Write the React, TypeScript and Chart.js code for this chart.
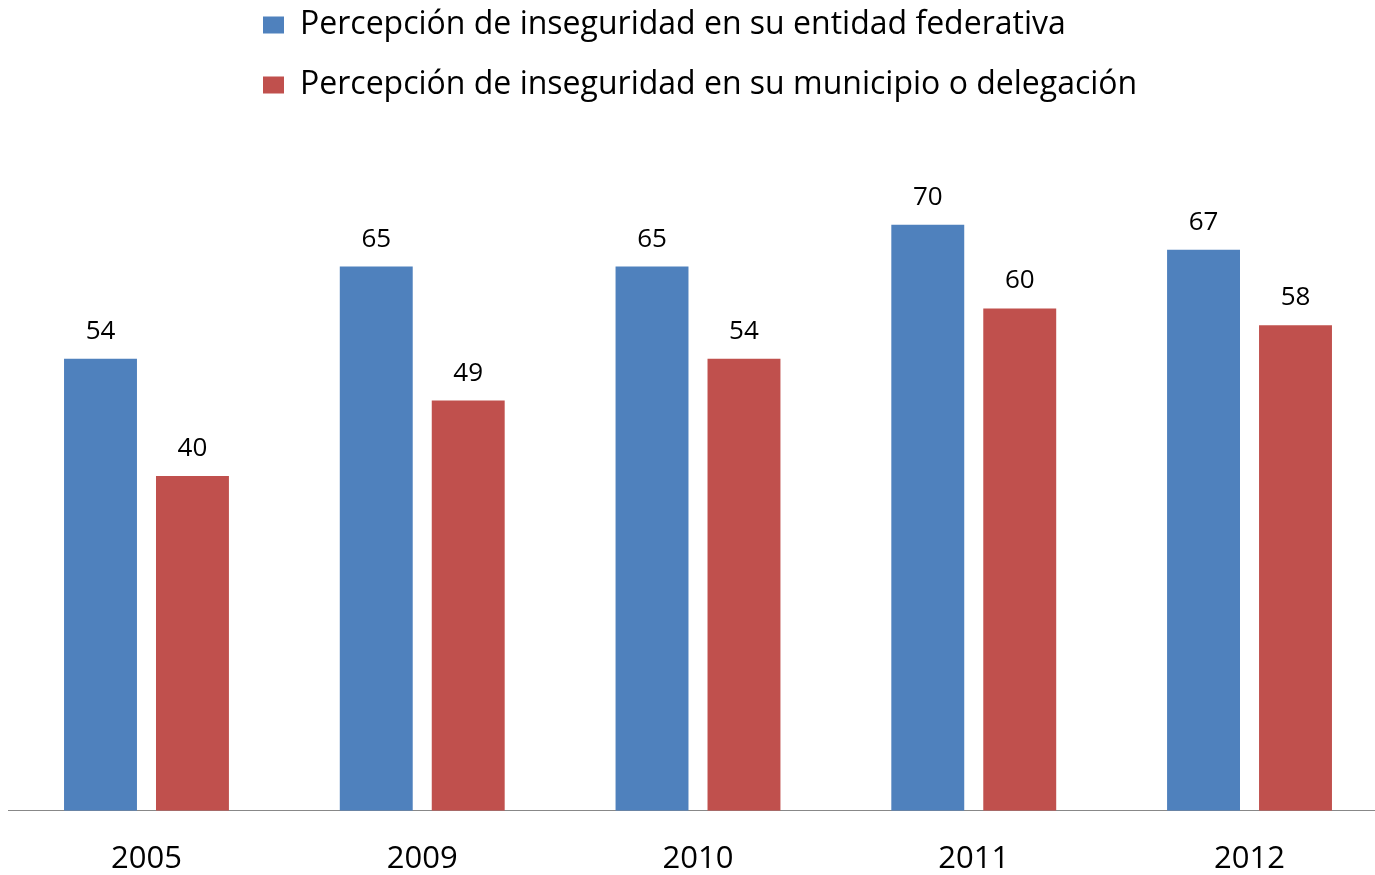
import React, { useEffect, useRef } from "react";
import { Chart, registerables } from "chart.js";

Chart.register(...registerables);

const categories = ["2005", "2009", "2010", "2011", "2012"];
const seriesNames = [
  "Percepción de inseguridad en su entidad federativa",
  "Percepción de inseguridad en su municipio o delegación",
];
const entidadValues = [54, 65, 65, 70, 67];
const municipioValues = [40, 49, 54, 60, 58];
const colors = ["#4F81BD", "#C0504D"];

const FONT = "'Open Sans', Lato, sans-serif";

const valueLabels = {
  id: "valueLabels",
  afterDatasetsDraw(chart: any) {
    const ctx = chart.ctx;
    ctx.save();
    ctx.font = `26px ${FONT}`;
    ctx.fillStyle = "#000000";
    ctx.textAlign = "center";
    ctx.textBaseline = "alphabetic";
    chart.data.datasets.forEach((ds: any, di: number) => {
      const meta = chart.getDatasetMeta(di);
      meta.data.forEach((bar: any, i: number) => {
        ctx.fillText(String(ds.data[i]), bar.x, bar.y - 20);
      });
    });
    ctx.restore();
  },
};

const legendPlacer = {
  id: "legendPlacer",
  beforeInit(chart: any) {
    const lg = chart.legend;
    if (lg && !lg._patched) {
      const orig = lg.fit;
      lg.fit = function () {
        orig.call(this);
        this.height = 141;
      };
      lg._patched = true;
    }
  },
  afterLayout(chart: any) {
    const lg = chart.legend;
    if (lg) {
      lg.left = 235;
      lg.top = -19;
    }
  },
};

export default function App() {
  const ref = useRef<HTMLCanvasElement | null>(null);
  useEffect(() => {
    if (!ref.current) return;
    const chart = new Chart(ref.current, {
      type: "bar",
      data: {
        labels: categories,
        datasets: [
          {
            label: seriesNames[0],
            data: entidadValues,
            backgroundColor: colors[0],
            categoryPercentage: 0.667,
            barPercentage: 0.793,
          },
          {
            label: seriesNames[1],
            data: municipioValues,
            backgroundColor: colors[1],
            categoryPercentage: 0.667,
            barPercentage: 0.793,
          },
        ],
      },
      options: {
        responsive: false,
        animation: false,
        layout: { padding: { left: 8.6, right: 2.6, top: 0, bottom: -33 } },
        plugins: {
          tooltip: { enabled: false },
          legend: {
            position: "top",
            align: "start",
            labels: {
              boxWidth: 21,
              boxHeight: 17,
              padding: 28,
              color: "#000000",
              font: { family: FONT, size: 32 },
            },
          },
        },
        scales: {
          x: {
            grid: { display: false, drawTicks: false },
            border: { display: true, color: "#888888", width: 1 },
            ticks: {
              color: "#000000",
              padding: 30,
              font: { family: FONT, size: 31, lineHeight: 1.2 },
            },
          },
          y: {
            display: false,
            min: 0,
            max: 80,
          },
        },
      },
      plugins: [valueLabels, legendPlacer],
    });
    return () => chart.destroy();
  }, []);
  return (
    <div style={{ position: "absolute", left: 0, top: 0, width: 1375, height: 875, overflow: "hidden", background: "#ffffff" }}>
      <div style={{ width: 1390, height: 875 }}>
        <canvas ref={ref} width={1390} height={875} style={{ display: "block" }} />
      </div>
    </div>
  );
}
